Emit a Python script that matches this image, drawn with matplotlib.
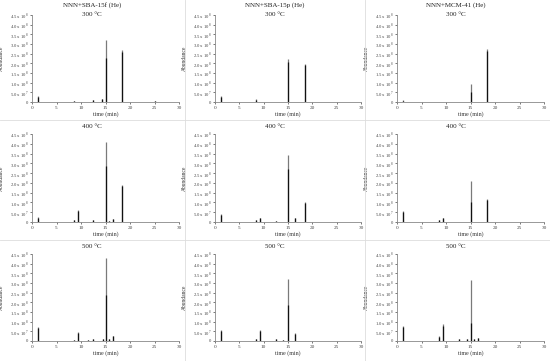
import matplotlib
matplotlib.use("Agg")
import matplotlib.pyplot as plt
from matplotlib.lines import Line2D

plt.rcParams['font.family'] = ['Liberation Serif', 'DejaVu Serif']
plt.rcParams['mathtext.fontset'] = 'custom'
plt.rcParams['mathtext.rm'] = 'Liberation Serif'

materials = ["NNN+SBA-15f (He)", "NNN+SBA-15p (He)", "NNN+MCM-41 (He)"]
temperatures = ["300 °C", "400 °C", "500 °C"]

x_ticks = [0, 5, 10, 15, 20, 25, 30]
y_ticks = [0, 0.5e8, 1.0e8, 1.5e8, 2.0e8, 2.5e8, 3.0e8, 3.5e8, 4.0e8, 4.5e8]
y_tick_labels = ["0", r"5.0 x 10$^{7}$", r"1.0 x 10$^{8}$", r"1.5 x 10$^{8}$",
                 r"2.0 x 10$^{8}$", r"2.5 x 10$^{8}$", r"3.0 x 10$^{8}$",
                 r"3.5 x 10$^{8}$", r"4.0 x 10$^{8}$", r"4.5 x 10$^{8}$"]

# peak retention times (min), peak apex heights (x1e8), dark core heights (x1e8)
# row: temperature, column: material
peak_times = {
    (0, 0): [1.2, 8.5, 12.5, 14.2, 15.0, 18.3, 25.0],
    (0, 1): [1.3, 8.5, 15.0, 18.4],
    (0, 2): [1.3, 15.0, 18.3],
    (1, 0): [1.2, 8.5, 9.3, 12.5, 15.0, 15.7, 16.5, 18.3],
    (1, 1): [1.3, 8.5, 9.3, 12.5, 15.0, 16.5, 18.4],
    (1, 2): [1.3, 8.5, 9.3, 15.0, 18.3],
    (2, 0): [1.2, 8.5, 9.3, 11.5, 12.5, 14.5, 15.0, 15.7, 16.5],
    (2, 1): [1.2, 8.5, 9.3, 12.5, 14.0, 15.0, 16.5],
    (2, 2): [1.2, 8.5, 9.3, 12.6, 14.3, 15.0, 15.7, 16.5],
}
peak_heights = {
    (0, 0): [0.30, 0.05, 0.10, 0.15, 3.20, 2.70, 0.04],
    (0, 1): [0.32, 0.15, 2.20, 1.95],
    (0, 2): [0.08, 0.95, 2.72],
    (1, 0): [0.28, 0.08, 0.60, 0.10, 4.10, 0.05, 0.15, 1.90],
    (1, 1): [0.40, 0.12, 0.20, 0.05, 3.45, 0.22, 1.00],
    (1, 2): [0.57, 0.12, 0.20, 2.10, 1.20],
    (2, 0): [0.70, 0.05, 0.47, 0.05, 0.08, 0.10, 4.30, 0.12, 0.28],
    (2, 1): [0.55, 0.12, 0.55, 0.08, 0.05, 3.20, 0.40],
    (2, 2): [0.78, 0.25, 0.88, 0.10, 0.08, 3.15, 0.08, 0.17],
}
core_heights = {
    (0, 0): [0.25, 0.05, 0.10, 0.15, 2.30, 2.60, 0.04],
    (0, 1): [0.28, 0.12, 2.05, 1.90],
    (0, 2): [0.06, 0.50, 2.65],
    (1, 0): [0.22, 0.08, 0.55, 0.10, 2.85, 0.05, 0.15, 1.85],
    (1, 1): [0.35, 0.10, 0.18, 0.05, 2.70, 0.20, 0.95],
    (1, 2): [0.50, 0.10, 0.18, 1.00, 1.15],
    (2, 0): [0.65, 0.05, 0.42, 0.05, 0.08, 0.10, 2.40, 0.12, 0.25],
    (2, 1): [0.50, 0.10, 0.50, 0.08, 0.05, 1.85, 0.35],
    (2, 2): [0.72, 0.22, 0.80, 0.10, 0.08, 0.95, 0.08, 0.15],
}

fig = plt.figure(figsize=(5.5, 3.61), dpi=100)
W, H = 550, 361
col_lefts = [32, 215, 397]
col_widths = [147, 146, 147]
col_centers = [92, 275, 456]
row_tops = [15, 134, 254]
row_bottoms = [102, 222, 341]
title_y = [[5, 14], [126], [246]]

for r in range(3):
    for c in range(3):
        left = col_lefts[c] / W
        width = col_widths[c] / W
        bottom = 1 - row_bottoms[r] / H
        height = (row_bottoms[r] - row_tops[r]) / H
        ax = fig.add_axes([left, bottom, width, height])
        t = peak_times[(r, c)]
        h = [v * 1e8 for v in peak_heights[(r, c)]]
        k = [v * 1e8 for v in core_heights[(r, c)]]
        ax.vlines(t, 0, h, color="#7a7a7a", linewidth=0.9)
        ax.vlines(t, 0, k, color="#111111", linewidth=0.9)
        ax.set_xlim(0, 30)
        ax.set_ylim(0, 4.5e8)
        ax.set_xticks(x_ticks)
        ax.set_yticks(y_ticks)
        ax.set_yticklabels(y_tick_labels)
        ax.tick_params(axis="y", labelsize=3.3, length=1.5, width=0.5, pad=1.2, colors="#444444")
        ax.tick_params(axis="x", labelsize=3.8, length=1.5, width=0.5, pad=1.5, colors="#444444")
        for s in ["top", "right"]:
            ax.spines[s].set_visible(False)
        for s in ["left", "bottom"]:
            ax.spines[s].set_color("#888888")
            ax.spines[s].set_linewidth(0.6)
        ax.set_xlabel("time (min)", fontsize=4.3, labelpad=1, color="#333333")
        ax.set_ylabel("Abundance", fontsize=4.0, color="#333333")
        ax.yaxis.set_label_coords(-0.19, 0.5)
        texts = [materials[c], temperatures[r]] if r == 0 else [temperatures[r]]
        for txt, yy in zip(texts, title_y[r]):
            fig.text(col_centers[c] / W, 1 - yy / H, txt, ha="center", va="center",
                     fontsize=5.0, color="#222222")

# light separators between panels
for x in [185, 365]:
    fig.add_artist(Line2D([x / W, x / W], [0, 1], color="#dddddd", linewidth=0.6))
for y in [120, 240]:
    fig.add_artist(Line2D([0, 1], [1 - y / H, 1 - y / H], color="#dddddd", linewidth=0.6))

fig.savefig("out.png", dpi=100)
